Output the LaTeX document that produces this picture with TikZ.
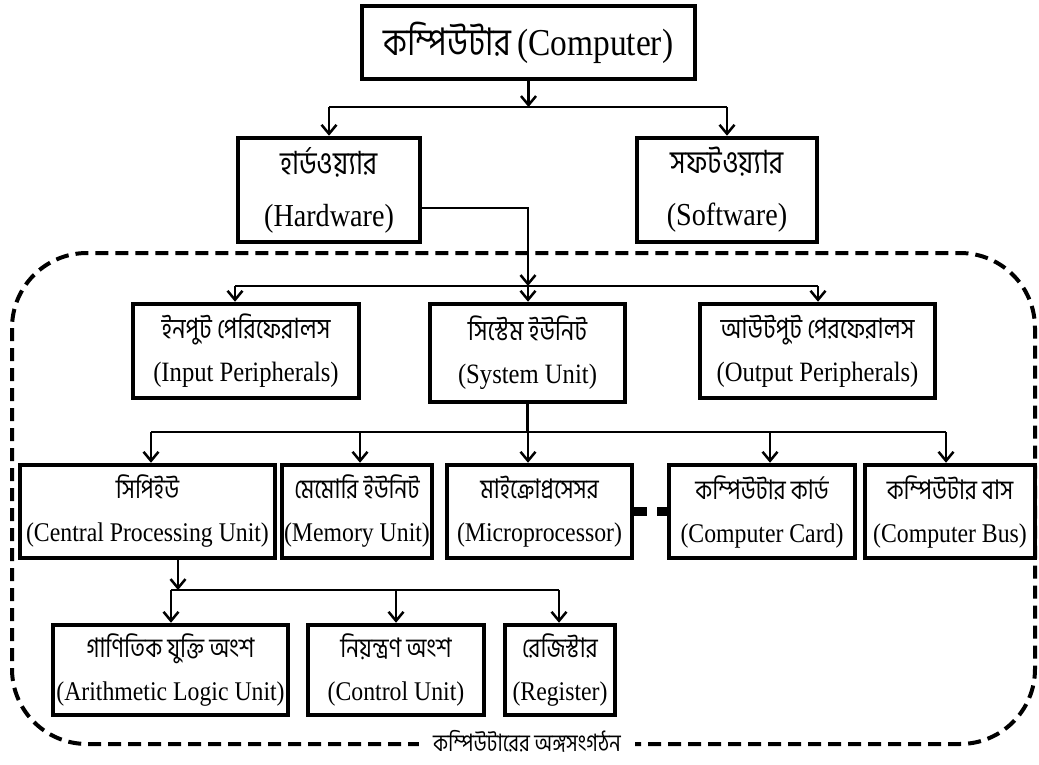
\documentclass[tikz,border=0pt]{standalone}
\usepackage{fontspec}
\setmainfont{Liberation Serif}[FakeStretch=0.88]
\newfontfamily\bn[Script=Bengali,FakeStretch=0.84]{Hind Siliguri}
\usetikzlibrary{arrows.meta}
\begin{document}
\begin{tikzpicture}[x=1pt,y=-1pt,
  box/.style 2 args={draw,line width=4.5pt,fill=white,inner sep=0pt,align=center,
    minimum width=#1,minimum height=#2},
  lvA/.style={font={\fontsize{38}{46}\selectfont}},
  lvB/.style={font={\fontsize{32}{52}\selectfont\lineskiplimit=-100pt}},
  lvC/.style={font={\fontsize{28}{43}\selectfont\lineskiplimit=-100pt}},
  lvD/.style={font={\fontsize{27}{43}\selectfont\lineskiplimit=-100pt}},
  conn/.style={line width=2.5pt},
  arr/.style={line width=2.5pt,-{Straight Barb[length=9pt,width=15pt]}},
  border/.style={line width=4pt,dash pattern=on 13pt off 7pt,rounded corners=75pt},
  link/.style={line width=9pt,dash pattern=on 13pt off 10pt}]
\useasboundingbox (0,0) rectangle (1039,765);
% group border
\draw[border] (12,253) rectangle (1035,744);
% boxes
\node[box={333pt}{73pt},lvA] (comp) at (528.5,42.5) {{\bn কম্পিউটার}\,(Computer)};
\node[box={182pt}{104pt},lvB] (hw) at (329,190) {{\bn হার্ডওয়্যার}\\(Hardware)};
\node[box={180pt}{104pt},lvB] (sw) at (727,190) {{\bn সফটওয়্যার}\\(Software)};
\node[box={226pt}{94pt},lvC] (in) at (246,351) {{\bn ইনপুট পেরিফেরালস}\\(Input Peripherals)};
\node[box={195pt}{98pt},lvC] (sys) at (527.5,353) {{\bn সিস্টেম ইউনিট}\\(System Unit)};
\node[box={235pt}{94pt},lvC] (out) at (817.5,351) {{\bn আউটপুট পেরফেরালস}\\(Output Peripherals)};
\node[box={255pt}{93pt},lvD] (cpu) at (147.5,511.5) {{\bn সিপিইউ}\\(Central Processing Unit)};
\node[box={150pt}{93pt},lvD] (mem) at (357,511.5) {{\bn মেমোরি ইউনিট}\\(Memory Unit)};
\node[box={185pt}{93pt},lvD] (mic) at (539.5,511.5) {{\bn মাইক্রোপ্রসেসর}\\(Microprocessor)};
\node[box={186pt}{93pt},lvD] (card) at (762,511.5) {{\bn কম্পিউটার কার্ড}\\(Computer Card)};
\node[box={170pt}{93pt},lvD] (bus) at (950,511.5) {{\bn কম্পিউটার বাস}\\(Computer Bus)};
\node[box={235pt}{90pt},lvD] (alu) at (170.5,670) {{\bn গাণিতিক যুক্তি অংশ}\\(Arithmetic Logic Unit)};
\node[box={176pt}{90pt},lvD] (ctl) at (396,670) {{\bn নিয়ন্ত্রণ অংশ}\\(Control Unit)};
\node[box={110pt}{90pt},lvD] (reg) at (560,670) {{\bn রেজিস্টার}\\(Register)};
% junction coordinates
\coordinate (j1) at (528.5,107);
\coordinate (j2) at (528,286);
\coordinate (ji) at (235,286);
\coordinate (jo) at (818,286);
\coordinate (j3) at (527.5,432);
\coordinate (jc) at (151,432);
\coordinate (jm) at (360,432);
\coordinate (jk) at (528,432);
\coordinate (jd) at (770,432);
\coordinate (jb) at (946,432);
\coordinate (c0) at (178,590);
\coordinate (ca) at (171,590);
\coordinate (cc) at (396,590);
\coordinate (cr) at (559,590);
% connectors level 1
\draw[arr] (comp.south) -- (j1);
\draw[conn] (hw.north |- j1) -- (sw.north |- j1);
\draw[arr] (hw.north |- j1) -- (hw.north);
\draw[arr] (sw.north |- j1) -- (sw.north);
% hardware to its parts
\draw[arr] ([yshift=-18pt]hw.east) -| (j2);
\draw[conn] (ji) -- (jo);
\draw[arr] (ji) -- (ji |- in.north);
\draw[arr] (j2) -- (j2 |- sys.north);
\draw[arr] (jo) -- (jo |- out.north);
% system unit parts
\draw[conn] (sys.south) -- (j3);
\draw[conn] (jc) -- (jb);
\draw[arr] (jc) -- (jc |- cpu.north);
\draw[arr] (jm) -- (jm |- mem.north);
\draw[arr] (jk) -- (jk |- mic.north);
\draw[arr] (jd) -- (jd |- card.north);
\draw[arr] (jb) -- (jb |- bus.north);
\draw[link] (mic.east) -- (card.west);
% cpu parts
\draw[arr] (c0 |- cpu.south) -- (c0);
\draw[conn] (ca) -- (cr);
\draw[arr] (ca) -- (ca |- alu.north);
\draw[arr] (cc) -- (cc |- ctl.north);
\draw[arr] (cr) -- (cr |- reg.north);
% label
\node[fill=white,inner xsep=14pt,inner ysep=1pt,font={\bn\fontsize{24}{28}\selectfont}] (lbl) at (527,741) {কম্পিউটারের অঙ্গসংগঠন};
\end{tikzpicture}
\end{document}
